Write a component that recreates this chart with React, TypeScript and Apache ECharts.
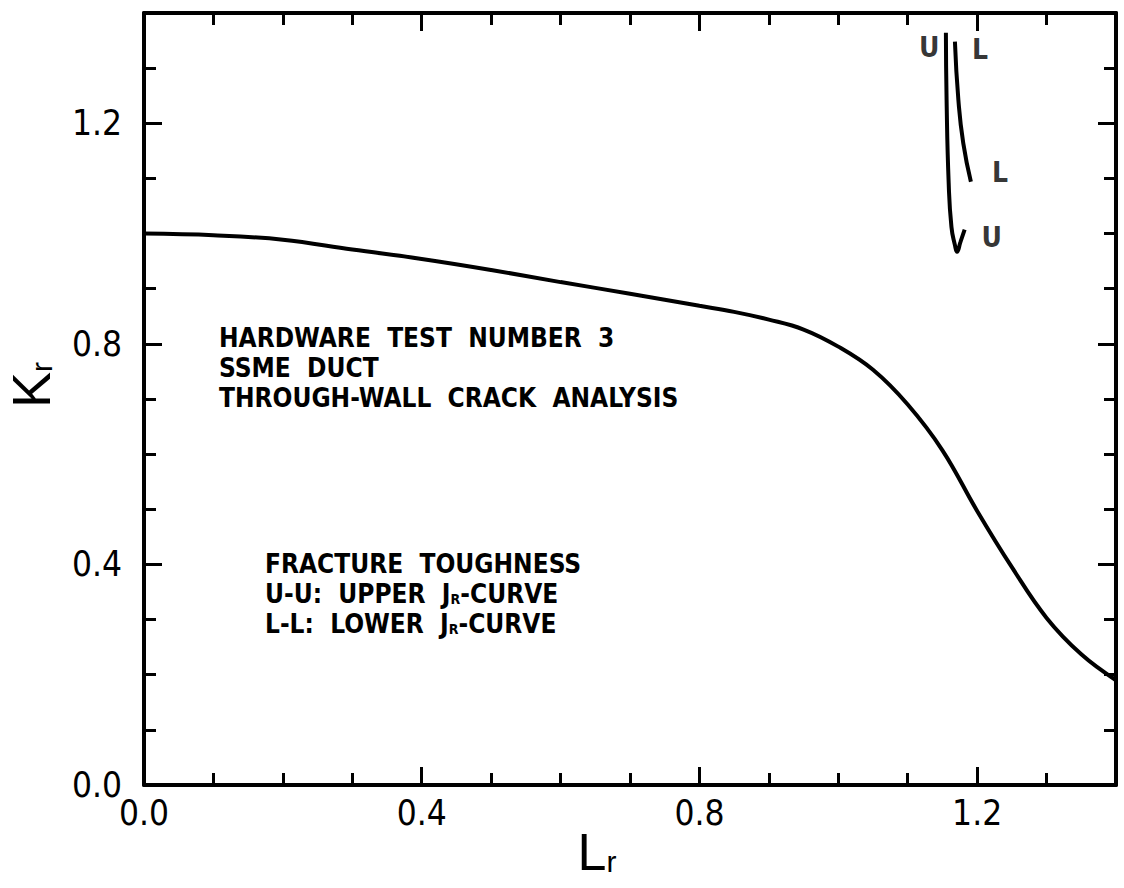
import React, { useEffect, useRef } from 'react';
import * as echarts from 'echarts';

// Main failure assessment curve (Lr, Kr)
const lrValues = [0, 0.1, 0.2, 0.3, 0.4, 0.5, 0.6, 0.7, 0.8, 0.85, 0.9, 0.95, 1.0, 1.05, 1.1, 1.15, 1.2, 1.25, 1.3, 1.35, 1.4];
const krValues = [1.0, 0.997, 0.989, 0.971, 0.954, 0.934, 0.912, 0.891, 0.869, 0.858, 0.844, 0.826, 0.795, 0.753, 0.69, 0.607, 0.497, 0.395, 0.303, 0.237, 0.19];

// U-U: upper J_R curve
const upperLr = [1.155, 1.156, 1.159, 1.163, 1.168, 1.171, 1.176, 1.182];
const upperKr = [1.364, 1.242, 1.092, 1.012, 0.979, 0.967, 0.985, 1.007];

// L-L: lower J_R curve
const lowerLr = [1.168, 1.173, 1.180, 1.191];
const lowerKr = [1.348, 1.242, 1.164, 1.094];

// curve end labels
const endLabels = ['U', 'L', 'L', 'U'];
const endLabelLr = [1.131, 1.204, 1.233, 1.221];
const endLabelKr = [1.338, 1.333, 1.110, 0.992];

const noteTop = ['HARDWARE  TEST  NUMBER  3', 'SSME  DUCT', 'THROUGH-WALL  CRACK  ANALYSIS'];

const FONT = "'Liberation Sans Narrow', 'DejaVu Sans Condensed', 'Liberation Sans', sans-serif";
const NAME_FONT = "'Liberation Sans', 'DejaVu Sans', sans-serif";

function zip(a: number[], b: number[]) {
  return a.map((v, i) => [v, b[i]]);
}

function frameAxis(position: string, interval: number, tickLen: number, showLine: boolean) {
  return {
    type: 'value',
    position,
    min: 0,
    max: 1.4,
    interval,
    axisLine: { show: showLine, onZero: false, lineStyle: { color: '#000', width: 4 } },
    axisTick: { show: true, inside: true, length: tickLen, lineStyle: { color: '#000', width: 3 } },
    axisLabel: { show: false },
    splitLine: { show: false },
  };
}

export default function App() {
  const ref = useRef<HTMLDivElement>(null);
  useEffect(() => {
    if (!ref.current) return;
    const chart = echarts.init(ref.current, null, { renderer: 'svg' });
    const labelStyle = {
      show: true,
      showMaxLabel: false,
      formatter: (v: number) => v.toFixed(1),
      fontSize: 35,
      color: '#000',
      fontFamily: FONT,
    };
    chart.setOption({
      animation: false,
      backgroundColor: '#fff',
      grid: { left: 144, right: 8, top: 13, bottom: 103, containLabel: false, outerBoundsMode: 'none' },
      xAxis: [
        {
          ...frameAxis('bottom', 0.4, 18, true),
          axisLabel: { ...labelStyle, margin: 10 },
          name: '{a|L}{b|r}',
          nameLocation: 'middle',
          nameGap: 40,
          nameMoveOverlap: false,
          nameTextStyle: {
            padding: [0, 66, 0, 0],
            rich: {
              a: { fontSize: 52, lineHeight: 54, fontFamily: NAME_FONT, color: '#000' },
              b: { fontSize: 30, lineHeight: 30, fontFamily: NAME_FONT, color: '#000', padding: [18, 0, 0, 0] },
            },
          },
        },
        frameAxis('bottom', 0.1, 12, false),
        frameAxis('top', 0.4, 18, true),
        frameAxis('top', 0.1, 12, false),
      ],
      yAxis: [
        {
          ...frameAxis('left', 0.4, 18, true),
          axisLabel: { ...labelStyle, margin: 22 },
          name: '{a|K}{b|r}',
          nameLocation: 'middle',
          nameRotate: 90,
          nameGap: 84,
          nameTextStyle: {
            padding: [0, 0, 0, 28],
            rich: {
              a: { fontSize: 54, lineHeight: 58, fontFamily: NAME_FONT, color: '#000' },
              b: { fontSize: 30, lineHeight: 30, fontFamily: NAME_FONT, color: '#000', padding: [20, 0, 0, 0] },
            },
          },
        },
        frameAxis('left', 0.1, 12, false),
        frameAxis('right', 0.4, 18, true),
        frameAxis('right', 0.1, 12, false),
      ],
      series: [
        {
          type: 'line',
          data: zip(lrValues, krValues),
          smooth: 0.4,
          showSymbol: false,
          lineStyle: { color: '#000', width: 4 },
        },
        {
          type: 'line',
          data: zip(upperLr, upperKr),
          smooth: true,
          showSymbol: false,
          lineStyle: { color: '#000', width: 4 },
        },
        {
          type: 'line',
          data: zip(lowerLr, lowerKr),
          smooth: true,
          showSymbol: false,
          lineStyle: { color: '#000', width: 4 },
        },
        {
          type: 'scatter',
          symbolSize: 1,
          itemStyle: { color: 'rgba(0,0,0,0)' },
          data: endLabels.map((t, i) => [endLabelLr[i], endLabelKr[i], t]),
          label: {
            show: true,
            position: 'inside',
            formatter: (p: any) => p.value[2],
            fontSize: 28,
            fontWeight: 'bold',
            fontFamily: FONT,
            color: '#000',
          },
        },
      ],
      graphic: [
        {
          type: 'text',
          left: 219,
          top: 323,
          style: {
            text: noteTop.join('\n'),
            fontSize: 26,
            fontWeight: 'bold',
            lineHeight: 30,
            fontFamily: FONT,
            fill: '#000',
          },
        },
        {
          type: 'text',
          left: 265,
          top: 551,
          style: {
            text: '{t|FRACTURE  TOUGHNESS}\n{t|U-U:  UPPER  J}{s|R}{t|-CURVE}\n{t|L-L:  LOWER  J}{s|R}{t|-CURVE}',
            fill: '#000',
            rich: {
              t: { fontSize: 26, fontWeight: 'bold', lineHeight: 30, fontFamily: FONT, fill: '#000' },
              s: { fontSize: 14, fontWeight: 'bold', lineHeight: 30, fontFamily: FONT, fill: '#000', padding: [10, 0, 0, 0] },
            },
          },
        },
      ],
    });
    return () => chart.dispose();
  }, []);
  return (
    <div
      ref={ref}
      style={{ position: 'fixed', left: 0, top: 0, width: 1124, height: 888, background: '#fff' }}
    />
  );
}
